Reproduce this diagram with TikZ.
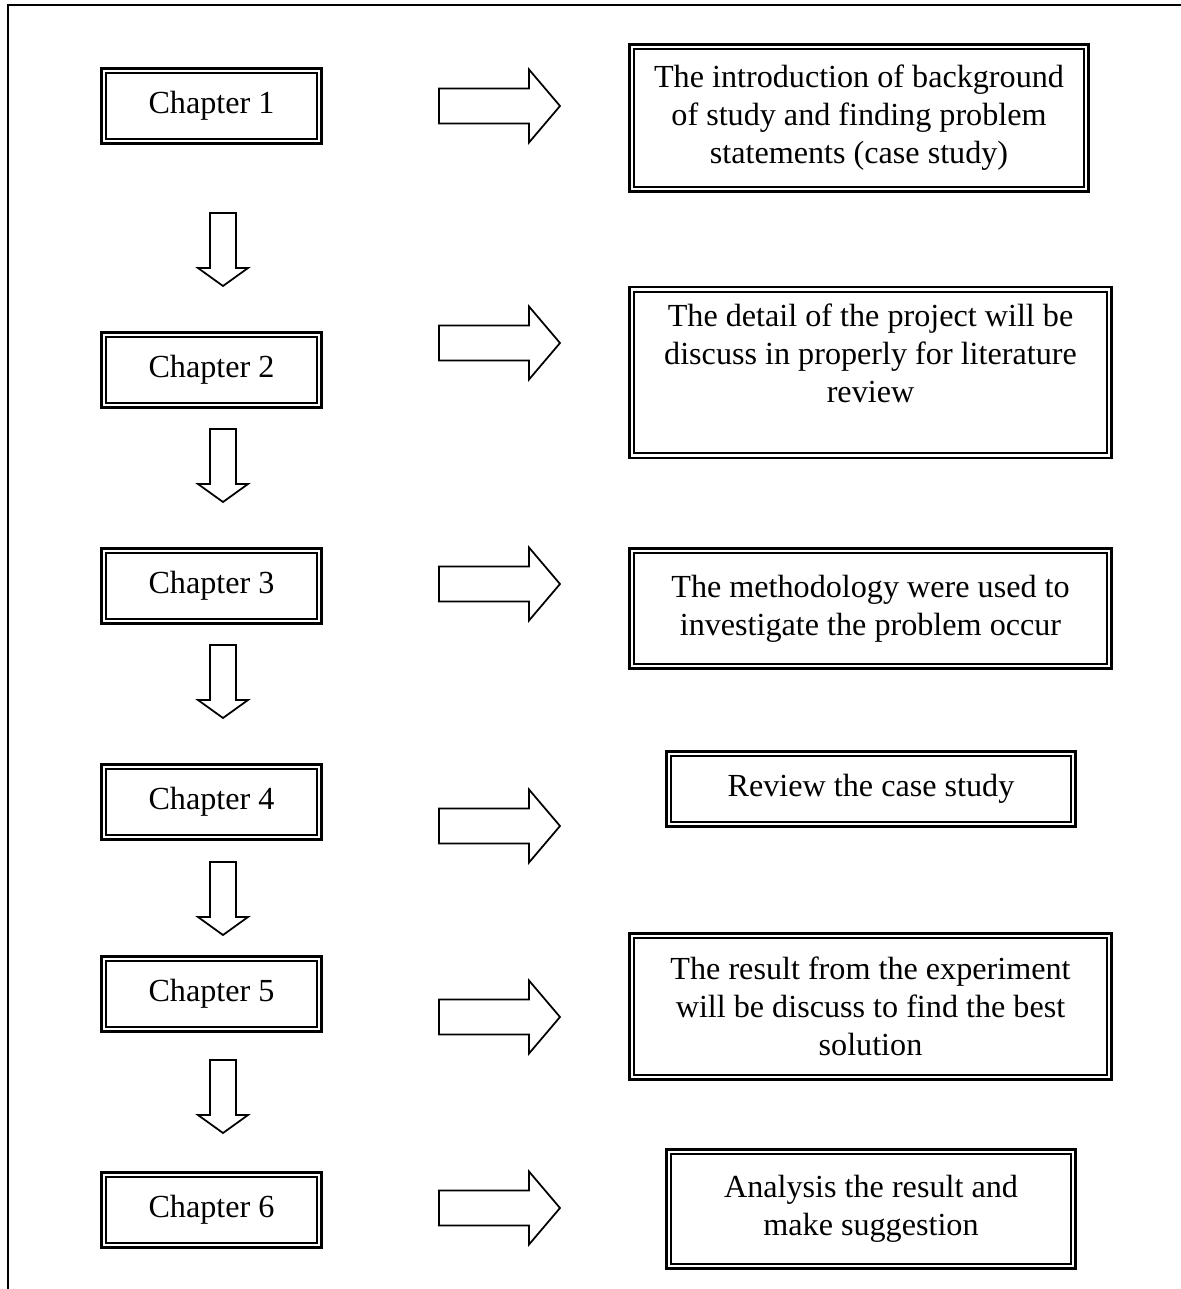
\documentclass[tikz,border=0pt]{standalone}
\usepackage{fontspec}
\setmainfont{Liberation Serif}

\begin{document}
\begin{tikzpicture}
    \tikzstyle{every node}=[font=\fontsize{18.3}{21.7}\selectfont]
    \tikzset{
      framebox/.style={draw, line width=1.6pt, align=center, inner sep=0pt,
        path picture={\draw[line width=1.1pt] ([shift={(0.095,-0.095)}]path picture bounding box.north west) rectangle ([shift={(-0.095,0.095)}]path picture bounding box.south east);}},
      chapbox/.style={framebox, minimum width=4.40cm, minimum height=1.50cm},
      blockarrow/.style={draw, line width=1pt, line join=miter},
      rightblock/.pic={\draw[blockarrow] (0,0.35) -- (1.80,0.35) -- (1.80,0.73) -- (2.42,0) -- (1.80,-0.73) -- (1.80,-0.35) -- (0,-0.35) -- cycle;},
      downblock/.pic={\draw[blockarrow] (0.26,0) -- (0.26,-1.10) -- (0.50,-1.10) -- (0,-1.46) -- (-0.50,-1.10) -- (-0.26,-1.10) -- (-0.26,0) -- cycle;}
    }
    \useasboundingbox (0,0) rectangle (23.62,-25.78);
    \draw [line width=1pt] (0.16,-25.78) -- (0.16,-0.10) -- (23.62,-0.10); % page frame
    % chapters
    \node [chapbox] (c1) at (4.23,-2.12) {Chapter 1};
    \node [chapbox] (c2) at (4.23,-7.40) {Chapter 2};
    \node [chapbox] (c3) at (4.23,-11.72) {Chapter 3};
    \node [chapbox] (c4) at (4.23,-16.04) {Chapter 4};
    \node [chapbox] (c5) at (4.23,-19.88) {Chapter 5};
    \node [chapbox] (c6) at (4.23,-24.20) {Chapter 6};
    % what each chapter holds
    \node [framebox, minimum width=9.18cm, minimum height=2.94cm] (d1) at (17.18,-2.36) {The introduction of background\\of study and finding problem\\statements (case study)};
    \node [framebox, minimum width=9.64cm, minimum height=3.42cm] (d2) at (17.41,-7.45) {The detail of the project will be\\discuss in properly for literature\\review\\\mbox{}};
    \node [framebox, minimum width=9.64cm, minimum height=2.40cm] (d3) at (17.41,-12.17) {The methodology were used to\\investigate the problem occur};
    \node [framebox, minimum width=8.18cm, minimum height=1.50cm] (d4) at (17.42,-15.78) {Review the case study};
    \node [framebox, minimum width=9.64cm, minimum height=2.92cm] (d5) at (17.41,-20.13) {The result from the experiment\\will be discuss to find the best\\solution};
    \node [framebox, minimum width=8.18cm, minimum height=2.38cm] (d6) at (17.42,-24.18) {Analysis the result and\\make suggestion};
    % block arrows
    \pic at (4.46,-4.26) {downblock};
    \pic at (4.46,-8.58) {downblock};
    \pic at (4.46,-12.90) {downblock};
    \pic at (4.46,-17.24) {downblock};
    \pic at (4.46,-21.20) {downblock};
    \pic at (8.78,-2.12) {rightblock};
    \pic at (8.78,-6.86) {rightblock};
    \pic at (8.78,-11.68) {rightblock};
    \pic at (8.78,-16.52) {rightblock};
    \pic at (8.78,-20.34) {rightblock};
    \pic at (8.78,-24.16) {rightblock};
\end{tikzpicture}
\end{document}
